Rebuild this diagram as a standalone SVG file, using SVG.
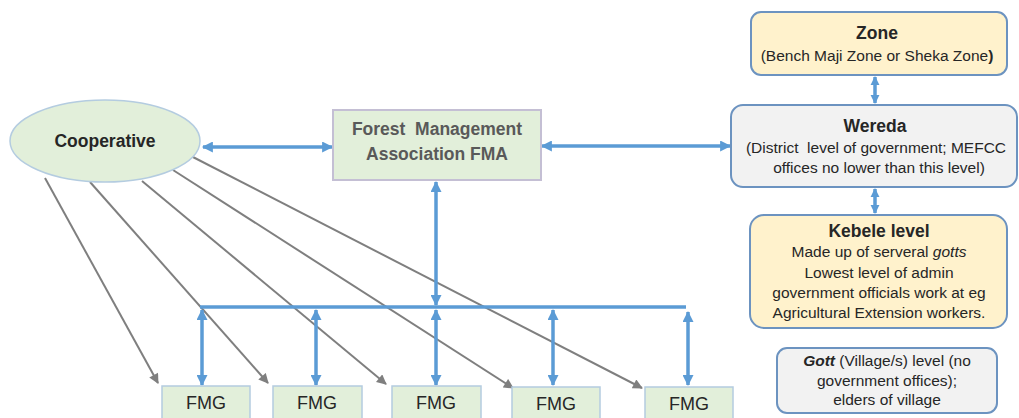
<svg xmlns="http://www.w3.org/2000/svg" width="1019" height="418" viewBox="0 0 1019 418">
<style>
text{font-family:"Liberation Sans",Arial,sans-serif;text-anchor:middle;fill:#262626;white-space:pre}
.b{font-weight:bold}
.green{fill:#E2EFDA;stroke:#B4CCE0;stroke-width:1.5}
.fma{fill:#E2EFDA;stroke:#C4BFD4;stroke-width:2}
.gov{stroke:#6C93C0;stroke-width:2}
.yel{fill:#FFF2CC}
.gry{fill:#F2F2F2}
.blue{stroke:#5B9BD5;stroke-width:3.5;fill:none}
.grey{stroke:#7F7F7F;stroke-width:2;fill:none}
.t14{font-size:15.5px}
.fmg{font-size:18px}
</style>
<defs>
<marker id="bh" viewBox="0 0 10 10" refX="9" refY="5" markerWidth="12" markerHeight="11" markerUnits="userSpaceOnUse" orient="auto-start-reverse"><path d="M0,0 L10,5 L0,10 z" fill="#5B9BD5"/></marker>
<marker id="bs" viewBox="0 0 10 10" refX="9" refY="5" markerWidth="9" markerHeight="10" markerUnits="userSpaceOnUse" orient="auto-start-reverse"><path d="M0,0 L10,5 L0,10 z" fill="#5B9BD5"/></marker>
<marker id="gh" viewBox="0 0 10 10" refX="9" refY="5" markerWidth="11" markerHeight="10" markerUnits="userSpaceOnUse" orient="auto"><path d="M0,0 L10,5 L0,10 z" fill="#7F7F7F"/></marker>
</defs>

<g id="connectors">
<line class="grey" x1="45" y1="178" x2="158" y2="383" marker-end="url(#gh)"/>
<line class="grey" x1="90" y1="182" x2="268" y2="383" marker-end="url(#gh)"/>
<line class="grey" x1="142" y1="181" x2="386" y2="384" marker-end="url(#gh)"/>
<line class="grey" x1="173" y1="170" x2="513" y2="388" marker-end="url(#gh)"/>
<line class="grey" x1="189" y1="155" x2="642" y2="388" marker-end="url(#gh)"/>
<line class="blue" x1="203" y1="147" x2="332" y2="147" marker-start="url(#bh)" marker-end="url(#bh)"/>
<line class="blue" x1="542" y1="146" x2="730" y2="146" marker-start="url(#bh)" marker-end="url(#bh)"/>
<line class="blue" x1="875" y1="77" x2="875" y2="103" stroke-width="3" marker-start="url(#bs)" marker-end="url(#bs)"/>
<line class="blue" x1="875" y1="189" x2="875" y2="213" stroke-width="3" marker-start="url(#bs)" marker-end="url(#bs)"/>
<line class="blue" x1="436" y1="182" x2="436" y2="305" marker-start="url(#bh)" marker-end="url(#bh)"/>
<line class="blue" x1="200" y1="307" x2="686" y2="307" stroke-width="4"/>
<line class="blue" x1="202" y1="310" x2="202" y2="385" marker-start="url(#bh)" marker-end="url(#bh)"/>
<line class="blue" x1="316" y1="310" x2="316" y2="385" marker-start="url(#bh)" marker-end="url(#bh)"/>
<line class="blue" x1="436" y1="310" x2="436" y2="385" marker-start="url(#bh)" marker-end="url(#bh)"/>
<line class="blue" x1="553" y1="310" x2="553" y2="385" marker-start="url(#bh)" marker-end="url(#bh)"/>
<line class="blue" x1="688" y1="312" x2="688" y2="385" marker-start="url(#bh)" marker-end="url(#bh)"/>
</g>

<g id="cooperative">
<ellipse class="green" cx="105" cy="141" rx="95" ry="41"/>
<text class="b" x="105" y="147" font-size="17.5">Cooperative</text>
</g>

<g id="fma">
<rect class="fma" x="333" y="110" width="208" height="70"/>
<text class="b" x="437" y="135" font-size="17.5" style="fill:#595959">Forest  Management</text>
<text class="b" x="437" y="160" font-size="17.5" style="fill:#595959">Association FMA</text>
</g>

<g id="zone">
<rect class="gov yel" x="751" y="12" width="256" height="63" rx="10"/>
<text class="b" x="877" y="39" font-size="17.5">Zone</text>
<text class="t14" x="877" y="61">(Bench Maji Zone or Sheka Zone<tspan font-weight="bold">)</tspan></text>
</g>

<g id="wereda">
<rect class="gov gry" x="731" y="105" width="286" height="82" rx="12"/>
<text class="b" x="875" y="132" font-size="17.5">Wereda</text>
<text class="t14" x="876" y="153">(District  level of government; MEFCC</text>
<text class="t14" x="879" y="173">offices no lower than this level)</text>
</g>

<g id="kebele">
<rect class="gov yel" x="750" y="215" width="257" height="113" rx="14"/>
<text class="b" x="879" y="237" font-size="17.5">Kebele level</text>
<text class="t14" x="879" y="257">Made up of serveral <tspan font-style="italic">gotts</tspan></text>
<text class="t14" x="879" y="278">Lowest level of admin</text>
<text class="t14" x="879" y="298">government officials work at eg</text>
<text class="t14" x="879" y="318">Agricultural Extension workers.</text>
</g>

<g id="gott">
<rect class="gov gry" x="777" y="348" width="220" height="65" rx="10"/>
<text class="t14" x="887" y="366"><tspan font-weight="bold" font-style="italic">Gott</tspan> (Village/s) level (no</text>
<text class="t14" x="887" y="386">government offices);</text>
<text class="t14" x="887" y="405">elders of village</text>
</g>

<g id="fmg1"><rect class="green" x="162" y="386" width="88" height="40"/><text class="fmg" x="206" y="409">FMG</text></g>
<g id="fmg2"><rect class="green" x="273" y="386" width="89" height="40"/><text class="fmg" x="317" y="409">FMG</text></g>
<g id="fmg3"><rect class="green" x="392" y="386" width="89" height="40"/><text class="fmg" x="436" y="409">FMG</text></g>
<g id="fmg4"><rect class="green" x="512" y="387" width="88" height="40"/><text class="fmg" x="556" y="410">FMG</text></g>
<g id="fmg5"><rect class="green" x="645" y="387" width="88" height="40"/><text class="fmg" x="689" y="410">FMG</text></g>
</svg>
